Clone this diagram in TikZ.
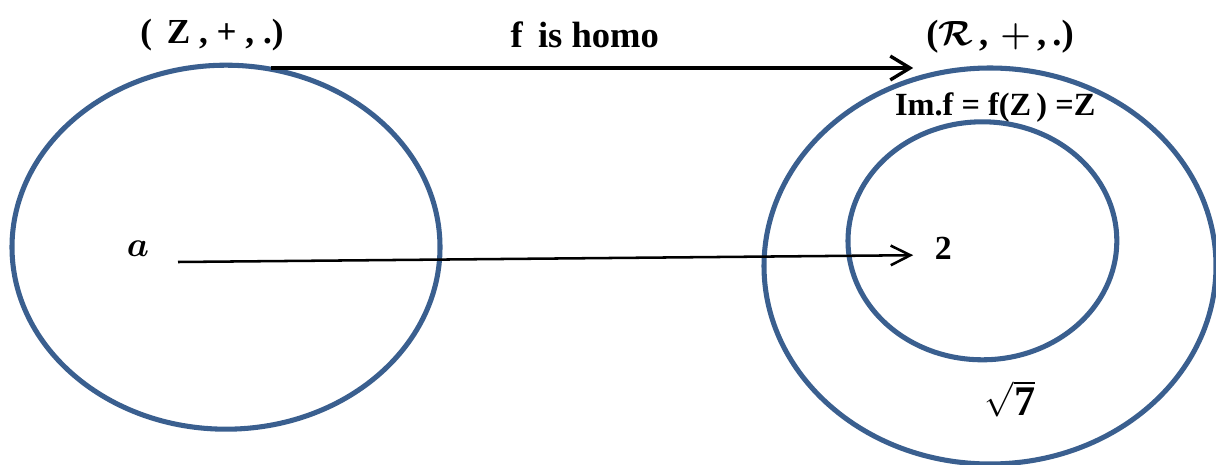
\documentclass[tikz,border=0pt]{standalone}
\usepackage{amsmath, amssymb, bm}
\usepackage{fontspec}
\setmainfont{Liberation Serif}
\usetikzlibrary{positioning,arrows.meta,shapes.geometric}
\definecolor{ringblue}{HTML}{3A5F8F}
\tikzset{
  setring/.style={draw=ringblue, ellipse, line width=3.6pt, inner sep=0pt},
  maparrow/.style={-{Straight Barb[length=14pt, width=17pt, line width=2.4pt]}, line width=2.6pt},
  eltarrow/.style={-{Straight Barb[length=14pt, width=14pt, line width=1.8pt]}, line width=1.8pt},
  title/.style={font=\fontsize{23}{25}\selectfont\bfseries, inner sep=0pt},
  elem/.style={font=\fontsize{32}{34}\selectfont\bfseries, inner sep=0pt}
}

\begin{document}
\begin{tikzpicture}
  \useasboundingbox (0,0) rectangle (30.4,11.6);
  \node[setring, minimum width=10.7cm, minimum height=9.1cm] (dom) at (5.65,5.42) {};
  \node[setring, minimum width=11.3cm, minimum height=9.9cm] (cod) at (24.75,4.95) {};
  \node[setring, minimum width=6.72cm, minimum height=5.95cm] (img) at (24.56,5.58) {};
  \node[title, font=\fontsize{25}{27}\selectfont\bfseries] (zring) at (5.3,10.72) {(\,\ Z\ ,\ +\ ,\ .)};
  \node[title, font=\fontsize{26}{28}\selectfont\bfseries] (hom) at (14.62,10.72) {f\,\ is homo};
  \node[title, font=\fontsize{26}{28}\selectfont\bfseries] (rring) at (25.0,10.68) {($\bm{\mathcal{R}}$\,,\,\,$\bm{+}$\,,\,.)};
  \node[title] (imf) at (24.88,8.9) {Im.f = f(Z\,) =Z};
  \node[elem] (a) at (3.45,5.38) {$\bm{a}$};
  \node[elem, font=\fontsize{24}{26}\selectfont\bfseries] (two) at (23.58,5.38) {2};
  \node[elem, font=\fontsize{30}{32}\selectfont\bfseries] (sq) at (25.25,1.62) {$\sqrt{\mathbf{7}}$};
  \coordinate (topstart) at (6.78,9.9);
  \coordinate (topend) at (22.83,9.9);
  \coordinate (astart) at (4.45,5.05);
  \coordinate (twoend) at (22.83,5.22);
  \draw[maparrow] (topstart) -- (topend);
  \draw[eltarrow] (astart) -- (twoend);
\end{tikzpicture}
\end{document}
